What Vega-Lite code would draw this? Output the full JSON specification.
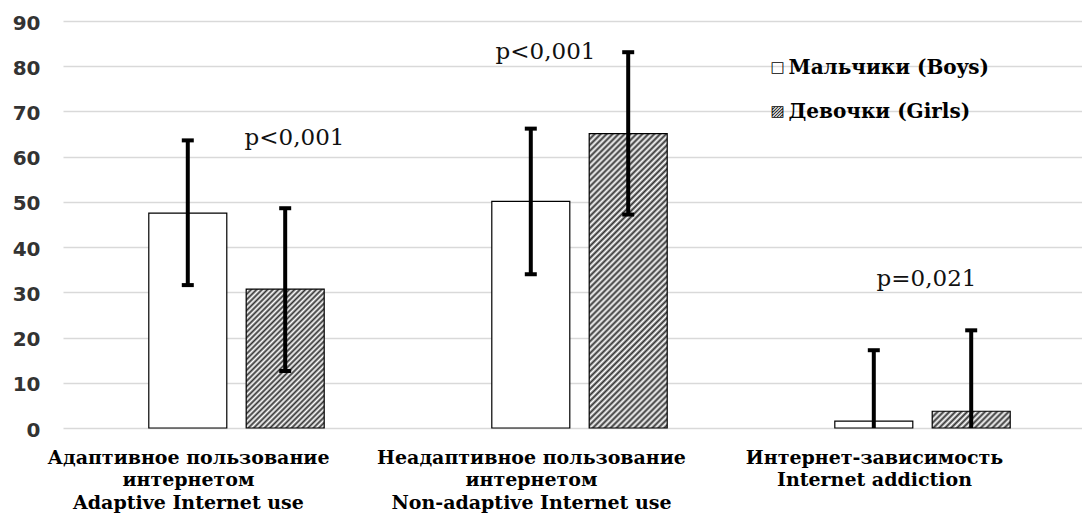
{
"$schema": "https://vega.github.io/schema/vega-lite/v6.json",
"width": 1019, "height": 407,
"autosize": {"type": "none"},
"padding": {"left": 63, "top": 21, "right": 0, "bottom": 97},
"background": "#ffffff",
"config": {"view": {"stroke": null}},
"layer": [
{
"data": {"values": [
{"id": "B1", "cat": "Адаптивное пользование|интернетом|Adaptive Internet use", "g": "Мальчики (Boys)", "v": 47.5, "lo": 31.6, "hi": 63.6, "locap": 31.6},
{"id": "G1", "cat": "Адаптивное пользование|интернетом|Adaptive Internet use", "g": "Девочки (Girls)", "v": 30.7, "lo": 12.6, "hi": 48.6, "locap": 12.6},
{"id": "B2", "cat": "Неадаптивное пользование|интернетом|Non-adaptive Internet use", "g": "Мальчики (Boys)", "v": 50.1, "lo": 34.0, "hi": 66.2, "locap": 34.0},
{"id": "G2", "cat": "Неадаптивное пользование|интернетом|Non-adaptive Internet use", "g": "Девочки (Girls)", "v": 65.1, "lo": 47.2, "hi": 83.1, "locap": 47.2},
{"id": "B3", "cat": "Интернет-зависимость|Internet addiction", "g": "Мальчики (Boys)", "v": 1.5, "lo": 0, "hi": 17.2, "locap": null},
{"id": "G3", "cat": "Интернет-зависимость|Internet addiction", "g": "Девочки (Girls)", "v": 3.7, "lo": 0, "hi": 21.6, "locap": null}
]},
"encoding": {
"x": {"field": "cat", "type": "nominal", "sort": null,
 "scale": {"domain": ["Адаптивное пользование|интернетом|Adaptive Internet use", "Неадаптивное пользование|интернетом|Non-adaptive Internet use", "Интернет-зависимость|Internet addiction"], "paddingInner": 0.0292, "paddingOuter": 0, "round": false},
 "axis": {"title": null, "ticks": false, "domain": false, "grid": false, "labelAngle": 0, "labelFont": "DejaVu Serif", "labelFontWeight": "bold", "labelFontSize": 19, "labelColor": "#000000", "labelPadding": 20, "labelLineHeight": 22.5, "labelExpr": "split(datum.label, '|')", "labelOffset": -41, "labelLimit": 0, "labelOverlap": false}},
"xOffset": {"field": "g", "type": "nominal", "sort": null,
 "scale": {"domain": ["Мальчики (Boys)", "Девочки (Girls)"], "paddingInner": 0.1992, "paddingOuter": 0.809, "align": 0.5444, "round": false}}
},
"layer": [
{
"mark": {"type": "bar", "stroke": "#000000", "strokeWidth": 1.2, "opacity": 1},
"encoding": {
"y": {"field": "v", "type": "quantitative",
 "scale": {"domain": [0, 90], "nice": false, "zero": true},
 "axis": {"title": null, "values": [0, 10, 20, 30, 40, 50, 60, 70, 80, 90], "labelFont": "DejaVu Sans", "labelFontWeight": "bold", "labelFontSize": 20, "labelColor": "#333333", "labelPadding": 23, "labelOffset": 2, "ticks": false, "domain": false, "grid": true, "gridColor": "#d9d9d9", "gridWidth": 1.3}},
"fill": {"field": "g", "type": "nominal",
 "scale": {"domain": ["Мальчики (Boys)", "Девочки (Girls)"], "range": ["#ffffff", "#8c8c8c"]},
 "legend": null,
 "condition": [
  {"test": "datum.id === 'G1'", "value": {"gradient": "linear", "x1": 0, "y1": 0, "x2": 0.6671, "y2": 1.1872, "stops": [
{"offset":0,"color":"#333"},{"offset":0.0125,"color":"#fff"},{"offset":0.025,"color":"#333"},{"offset":0.0375,"color":"#fff"},{"offset":0.05,"color":"#333"},{"offset":0.0625,"color":"#fff"},{"offset":0.075,"color":"#333"},{"offset":0.0875,"color":"#fff"},{"offset":0.1,"color":"#333"},{"offset":0.1125,"color":"#fff"},{"offset":0.125,"color":"#333"},{"offset":0.1375,"color":"#fff"},{"offset":0.15,"color":"#333"},{"offset":0.1625,"color":"#fff"},{"offset":0.175,"color":"#333"},{"offset":0.1875,"color":"#fff"},{"offset":0.2,"color":"#333"},{"offset":0.2125,"color":"#fff"},{"offset":0.225,"color":"#333"},{"offset":0.2375,"color":"#fff"},{"offset":0.25,"color":"#333"},{"offset":0.2625,"color":"#fff"},{"offset":0.275,"color":"#333"},{"offset":0.2875,"color":"#fff"},{"offset":0.3,"color":"#333"},{"offset":0.3125,"color":"#fff"},{"offset":0.325,"color":"#333"},{"offset":0.3375,"color":"#fff"},{"offset":0.35,"color":"#333"},{"offset":0.3625,"color":"#fff"},{"offset":0.375,"color":"#333"},{"offset":0.3875,"color":"#fff"},{"offset":0.4,"color":"#333"},{"offset":0.4125,"color":"#fff"},{"offset":0.425,"color":"#333"},{"offset":0.4375,"color":"#fff"},{"offset":0.45,"color":"#333"},{"offset":0.4625,"color":"#fff"},{"offset":0.475,"color":"#333"},{"offset":0.4875,"color":"#fff"},{"offset":0.5,"color":"#333"},{"offset":0.5125,"color":"#fff"},{"offset":0.525,"color":"#333"},{"offset":0.5375,"color":"#fff"},{"offset":0.55,"color":"#333"},{"offset":0.5625,"color":"#fff"},{"offset":0.575,"color":"#333"},{"offset":0.5875,"color":"#fff"},{"offset":0.6,"color":"#333"},{"offset":0.6125,"color":"#fff"},{"offset":0.625,"color":"#333"},{"offset":0.6375,"color":"#fff"},{"offset":0.65,"color":"#333"},{"offset":0.6625,"color":"#fff"},{"offset":0.675,"color":"#333"},{"offset":0.6875,"color":"#fff"},{"offset":0.7,"color":"#333"},{"offset":0.7125,"color":"#fff"},{"offset":0.725,"color":"#333"},{"offset":0.7375,"color":"#fff"},{"offset":0.75,"color":"#333"},{"offset":0.7625,"color":"#fff"},{"offset":0.775,"color":"#333"},{"offset":0.7875,"color":"#fff"},{"offset":0.8,"color":"#333"},{"offset":0.8125,"color":"#fff"},{"offset":0.825,"color":"#333"},{"offset":0.8375,"color":"#fff"},{"offset":0.85,"color":"#333"},{"offset":0.8625,"color":"#fff"},{"offset":0.875,"color":"#333"},{"offset":0.8875,"color":"#fff"},{"offset":0.9,"color":"#333"},{"offset":0.9125,"color":"#fff"},{"offset":0.925,"color":"#333"},{"offset":0.9375,"color":"#fff"},{"offset":0.95,"color":"#333"},{"offset":0.9625,"color":"#fff"},{"offset":0.975,"color":"#333"},{"offset":0.9875,"color":"#fff"},{"offset":1,"color":"#333"}]}},
  {"test": "datum.id === 'G2'", "value": {"gradient": "linear", "x1": 0, "y1": 0, "x2": 0.3132, "y2": 1.182, "stops": [
{"offset":0,"color":"#333"},{"offset":0.008,"color":"#fff"},{"offset":0.016,"color":"#333"},{"offset":0.024,"color":"#fff"},{"offset":0.032,"color":"#333"},{"offset":0.04,"color":"#fff"},{"offset":0.048,"color":"#333"},{"offset":0.056,"color":"#fff"},{"offset":0.064,"color":"#333"},{"offset":0.072,"color":"#fff"},{"offset":0.08,"color":"#333"},{"offset":0.088,"color":"#fff"},{"offset":0.096,"color":"#333"},{"offset":0.104,"color":"#fff"},{"offset":0.112,"color":"#333"},{"offset":0.12,"color":"#fff"},{"offset":0.128,"color":"#333"},{"offset":0.136,"color":"#fff"},{"offset":0.144,"color":"#333"},{"offset":0.152,"color":"#fff"},{"offset":0.16,"color":"#333"},{"offset":0.168,"color":"#fff"},{"offset":0.176,"color":"#333"},{"offset":0.184,"color":"#fff"},{"offset":0.192,"color":"#333"},{"offset":0.2,"color":"#fff"},{"offset":0.208,"color":"#333"},{"offset":0.216,"color":"#fff"},{"offset":0.224,"color":"#333"},{"offset":0.232,"color":"#fff"},{"offset":0.24,"color":"#333"},{"offset":0.248,"color":"#fff"},{"offset":0.256,"color":"#333"},{"offset":0.264,"color":"#fff"},{"offset":0.272,"color":"#333"},{"offset":0.28,"color":"#fff"},{"offset":0.288,"color":"#333"},{"offset":0.296,"color":"#fff"},{"offset":0.304,"color":"#333"},{"offset":0.312,"color":"#fff"},{"offset":0.32,"color":"#333"},{"offset":0.328,"color":"#fff"},{"offset":0.336,"color":"#333"},{"offset":0.344,"color":"#fff"},{"offset":0.352,"color":"#333"},{"offset":0.36,"color":"#fff"},{"offset":0.368,"color":"#333"},{"offset":0.376,"color":"#fff"},{"offset":0.384,"color":"#333"},{"offset":0.392,"color":"#fff"},{"offset":0.4,"color":"#333"},{"offset":0.408,"color":"#fff"},{"offset":0.416,"color":"#333"},{"offset":0.424,"color":"#fff"},{"offset":0.432,"color":"#333"},{"offset":0.44,"color":"#fff"},{"offset":0.448,"color":"#333"},{"offset":0.456,"color":"#fff"},{"offset":0.464,"color":"#333"},{"offset":0.472,"color":"#fff"},{"offset":0.48,"color":"#333"},{"offset":0.488,"color":"#fff"},{"offset":0.496,"color":"#333"},{"offset":0.504,"color":"#fff"},{"offset":0.512,"color":"#333"},{"offset":0.52,"color":"#fff"},{"offset":0.528,"color":"#333"},{"offset":0.536,"color":"#fff"},{"offset":0.544,"color":"#333"},{"offset":0.552,"color":"#fff"},{"offset":0.56,"color":"#333"},{"offset":0.568,"color":"#fff"},{"offset":0.576,"color":"#333"},{"offset":0.584,"color":"#fff"},{"offset":0.592,"color":"#333"},{"offset":0.6,"color":"#fff"},{"offset":0.608,"color":"#333"},{"offset":0.616,"color":"#fff"},{"offset":0.624,"color":"#333"},{"offset":0.632,"color":"#fff"},{"offset":0.64,"color":"#333"},{"offset":0.648,"color":"#fff"},{"offset":0.656,"color":"#333"},{"offset":0.664,"color":"#fff"},{"offset":0.672,"color":"#333"},{"offset":0.68,"color":"#fff"},{"offset":0.688,"color":"#333"},{"offset":0.696,"color":"#fff"},{"offset":0.704,"color":"#333"},{"offset":0.712,"color":"#fff"},{"offset":0.72,"color":"#333"},{"offset":0.728,"color":"#fff"},{"offset":0.736,"color":"#333"},{"offset":0.744,"color":"#fff"},{"offset":0.752,"color":"#333"},{"offset":0.76,"color":"#fff"},{"offset":0.768,"color":"#333"},{"offset":0.776,"color":"#fff"},{"offset":0.784,"color":"#333"},{"offset":0.792,"color":"#fff"},{"offset":0.8,"color":"#333"},{"offset":0.808,"color":"#fff"},{"offset":0.816,"color":"#333"},{"offset":0.824,"color":"#fff"},{"offset":0.832,"color":"#333"},{"offset":0.84,"color":"#fff"},{"offset":0.848,"color":"#333"},{"offset":0.856,"color":"#fff"},{"offset":0.864,"color":"#333"},{"offset":0.872,"color":"#fff"},{"offset":0.88,"color":"#333"},{"offset":0.888,"color":"#fff"},{"offset":0.896,"color":"#333"},{"offset":0.904,"color":"#fff"},{"offset":0.912,"color":"#333"},{"offset":0.92,"color":"#fff"},{"offset":0.928,"color":"#333"},{"offset":0.936,"color":"#fff"},{"offset":0.944,"color":"#333"},{"offset":0.952,"color":"#fff"},{"offset":0.96,"color":"#333"},{"offset":0.968,"color":"#fff"},{"offset":0.976,"color":"#333"},{"offset":0.984,"color":"#fff"},{"offset":0.992,"color":"#333"},{"offset":1,"color":"#fff"}]}},
  {"test": "datum.id === 'G3'", "value": {"gradient": "linear", "x1": 0, "y1": 0, "x2": 1.1609, "y2": 0.2485, "stops": [
{"offset":0,"color":"#333"},{"offset":0.03125,"color":"#fff"},{"offset":0.0625,"color":"#333"},{"offset":0.09375,"color":"#fff"},{"offset":0.125,"color":"#333"},{"offset":0.15625,"color":"#fff"},{"offset":0.1875,"color":"#333"},{"offset":0.21875,"color":"#fff"},{"offset":0.25,"color":"#333"},{"offset":0.28125,"color":"#fff"},{"offset":0.3125,"color":"#333"},{"offset":0.34375,"color":"#fff"},{"offset":0.375,"color":"#333"},{"offset":0.40625,"color":"#fff"},{"offset":0.4375,"color":"#333"},{"offset":0.46875,"color":"#fff"},{"offset":0.5,"color":"#333"},{"offset":0.53125,"color":"#fff"},{"offset":0.5625,"color":"#333"},{"offset":0.59375,"color":"#fff"},{"offset":0.625,"color":"#333"},{"offset":0.65625,"color":"#fff"},{"offset":0.6875,"color":"#333"},{"offset":0.71875,"color":"#fff"},{"offset":0.75,"color":"#333"},{"offset":0.78125,"color":"#fff"},{"offset":0.8125,"color":"#333"},{"offset":0.84375,"color":"#fff"},{"offset":0.875,"color":"#333"},{"offset":0.90625,"color":"#fff"},{"offset":0.9375,"color":"#333"},{"offset":0.96875,"color":"#fff"},{"offset":1,"color":"#333"}]}}
 ]}
}
},
{
"mark": {"type": "rule", "strokeWidth": 4, "color": "#000000", "opacity": 1},
"encoding": {"y": {"field": "lo", "type": "quantitative"}, "y2": {"field": "hi"}}
},
{
"mark": {"type": "tick", "thickness": 4, "size": 12, "color": "#000000", "opacity": 1},
"encoding": {"y": {"field": "hi", "type": "quantitative"}}
},
{
"mark": {"type": "tick", "thickness": 4, "size": 12, "color": "#000000", "opacity": 1},
"encoding": {"y": {"field": "locap", "type": "quantitative"}}
}
]
},
{
"data": {"values": [
{"cat": "Интернет-зависимость|Internet addiction", "ly": 79.5, "lg": "Мальчики (Boys)", "sym": "□"},
{"cat": "Интернет-зависимость|Internet addiction", "ly": 69.9, "lg": "Девочки (Girls)", "sym": "▨"}
]},
"layer": [
{
"mark": {"type": "text", "font": "DejaVu Sans", "fontSize": 15, "color": "#000000", "align": "center", "baseline": "middle", "dx": -138, "dy": -1},
"encoding": {
"x": {"field": "cat", "type": "nominal"},
"y": {"field": "ly", "type": "quantitative"},
"text": {"field": "sym"}
}
},
{
"mark": {"type": "text", "font": "DejaVu Serif", "fontWeight": "bold", "fontSize": 20, "color": "#000000", "align": "left", "baseline": "middle", "dx": -127},
"encoding": {
"x": {"field": "cat", "type": "nominal"},
"y": {"field": "ly", "type": "quantitative"},
"text": {"field": "lg"}
}
}
]
},
{
"data": {"values": [{"cat": "Адаптивное пользование|интернетом|Adaptive Internet use", "ypos": 62.5, "txt": "p<0,001"}]},
"mark": {"type": "text", "font": "DejaVu Serif", "fontSize": 23, "color": "#111111", "align": "center", "baseline": "alphabetic", "dx": 65},
"encoding": {"x": {"field": "cat", "type": "nominal"}, "y": {"field": "ypos", "type": "quantitative"}, "text": {"field": "txt"}}
},
{
"data": {"values": [{"cat": "Неадаптивное пользование|интернетом|Non-adaptive Internet use", "ypos": 81.7, "txt": "p<0,001"}]},
"mark": {"type": "text", "font": "DejaVu Serif", "fontSize": 23, "color": "#111111", "align": "center", "baseline": "alphabetic", "dx": -27},
"encoding": {"x": {"field": "cat", "type": "nominal"}, "y": {"field": "ypos", "type": "quantitative"}, "text": {"field": "txt"}}
},
{
"data": {"values": [{"cat": "Интернет-зависимость|Internet addiction", "ypos": 31.3, "txt": "p=0,021"}]},
"mark": {"type": "text", "font": "DejaVu Serif", "fontSize": 23, "color": "#111111", "align": "center", "baseline": "alphabetic", "dx": 11},
"encoding": {"x": {"field": "cat", "type": "nominal"}, "y": {"field": "ypos", "type": "quantitative"}, "text": {"field": "txt"}}
}
]
}
